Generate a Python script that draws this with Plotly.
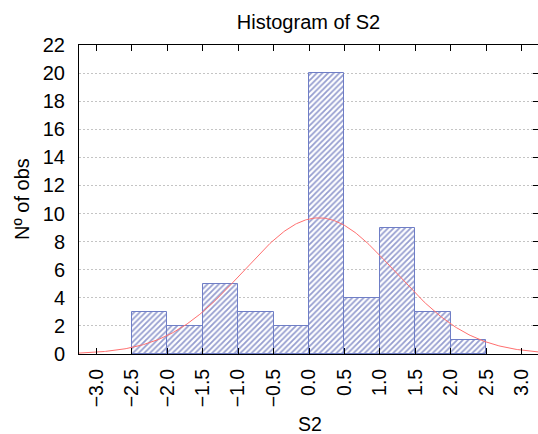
import numpy as np
import plotly.graph_objects as go

# Histogram bins (lower edges) and counts
bin_lefts = [-2.5, -2.0, -1.5, -1.0, -0.5, 0.0, 0.5, 1.0, 1.5, 2.0]
counts = [3, 2, 5, 3, 2, 20, 4, 9, 3, 1]
bin_width = 0.5

# Fitted normal curve parameters
fit_mean = 0.14
fit_sd = 1.07

x_tickvals = [-3.0, -2.5, -2.0, -1.5, -1.0, -0.5, 0.0, 0.5, 1.0, 1.5, 2.0, 2.5, 3.0]
y_tickvals = list(range(0, 23, 2))

FONT = "Liberation Sans, Arial, sans-serif"

mids = [b + bin_width / 2 for b in bin_lefts]
n_obs = sum(counts)
xr = [-3.244, 3.230]
xc = np.linspace(xr[0], xr[1], 400)
yc = n_obs * bin_width / (fit_sd * np.sqrt(2 * np.pi)) * np.exp(-0.5 * ((xc - fit_mean) / fit_sd) ** 2)

fig = go.Figure()
fig.add_trace(go.Bar(
    x=mids, y=counts, width=bin_width,
    marker=dict(
        color="white",
        line=dict(color="#6f7ec6", width=1),
        pattern=dict(shape="/", fgcolor="#2c3ca0", bgcolor="white", size=4, solidity=0.45),
    ),
    showlegend=False, hoverinfo="skip",
))
fig.add_trace(go.Scatter(
    x=xc, y=yc, mode="lines",
    line=dict(color="#ff6f6f", width=1),
    showlegend=False, hoverinfo="skip",
))
fig.add_trace(go.Scatter(
    x=[xr[0]], y=[0], mode="markers", marker=dict(opacity=0),
    yaxis="y2", showlegend=False, hoverinfo="skip",
))

fig.update_layout(
    width=538, height=434,
    margin=dict(l=79, r=0, t=45, b=80),
    paper_bgcolor="white", plot_bgcolor="white",
    font=dict(family=FONT, color="black"),
    bargap=0,
    title=dict(text="Histogram of S2", font=dict(family=FONT, size=20, color="black"),
               x=0.5, xref="paper", xanchor="center",
               y=1 - 21.5 / 434, yref="container", yanchor="middle"),
    xaxis=dict(
        range=xr, tickmode="array", tickvals=x_tickvals, tickformat=".1f",
        tickangle=-90, tickfont=dict(family=FONT, size=19.5, color="black"),
        ticks="inside", ticklen=6, tickcolor="black", tickwidth=1,
        showline=True, linecolor="black", linewidth=1, mirror="ticks",
        showgrid=False, zeroline=False, ticklabelstandoff=6,
    ),
    yaxis=dict(
        range=[0, 22], tickmode="array", tickvals=y_tickvals,
        tickfont=dict(family=FONT, size=20, color="black"),
        ticks="", showline=True, linecolor="black", linewidth=1,
        showgrid=True, gridcolor="#c4c4c4", gridwidth=1, griddash="2px,2px",
        zeroline=False, ticklabelstandoff=9,
    ),
    yaxis2=dict(
        range=[0, 22], overlaying="y", side="right", tickmode="array", tickvals=y_tickvals,
        ticks="inside", ticklen=5, tickcolor="black", showticklabels=False,
        showline=True, linecolor="black", linewidth=1, showgrid=False, zeroline=False,
    ),
    annotations=[
        dict(text="Nº of obs", x=22, y=199, xref="paper", yref="paper",
             showarrow=False, textangle=-90, font=dict(family=FONT, size=20, color="black")),
        dict(text="S2", x=309.5, y=423.5, xref="paper", yref="paper",
             showarrow=False, font=dict(family=FONT, size=19.5, color="black")),
    ],
)

# convert pixel annotation positions to paper coords
pw, ph = 538 - 79 - 0, 434 - 45 - 80
for a in fig.layout.annotations:
    px, py = a.x, a.y
    a.x = (px - 79) / pw
    a.y = (434 - 80 - py) / ph
    a.xanchor = "center"
    a.yanchor = "middle"

fig.write_html("out.html")
